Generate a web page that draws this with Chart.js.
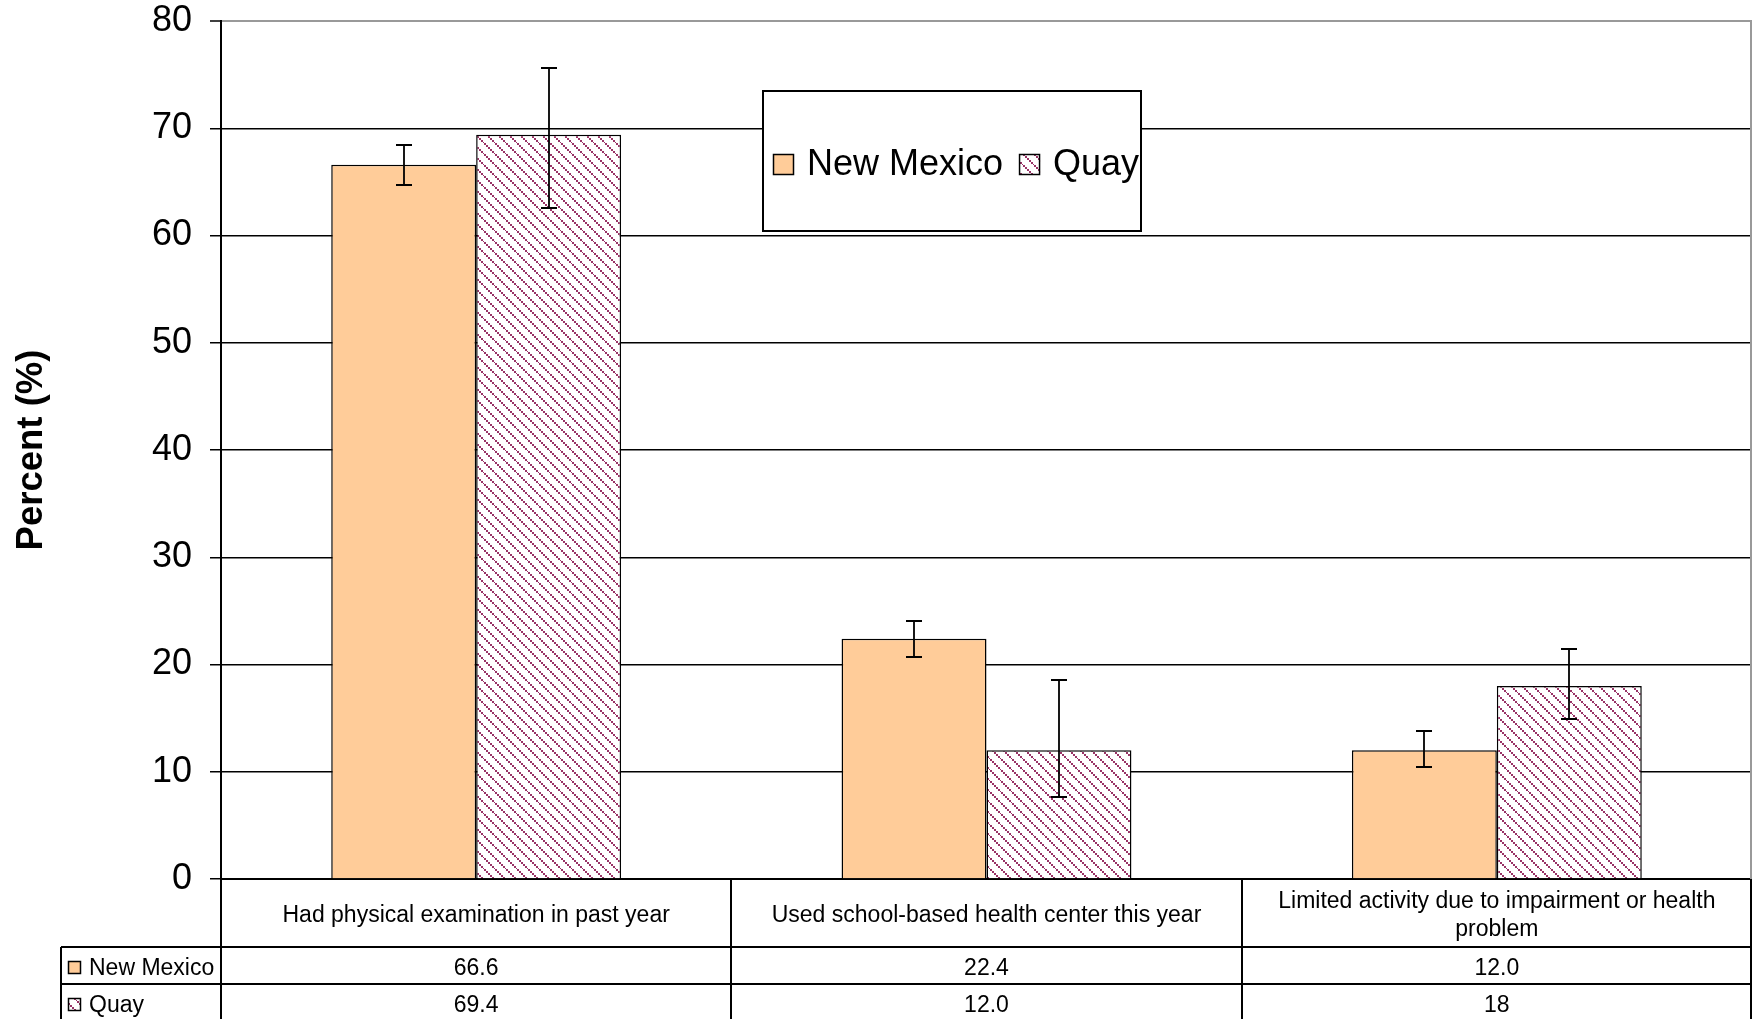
<!DOCTYPE html>
<html>
<head>
<meta charset="utf-8">
<script src="https://cdn.jsdelivr.net/npm/chart.js@4"></script>
<style>
  body { margin: 0; background: #fff; }
  canvas { display: block; }
</style>
</head>
<body>
<canvas id="healthChart" width="1752" height="1019" aria-label="Health care use, New Mexico vs Quay" role="img"></canvas>
<script>
const categories = [
    'Had physical examination in past year',
    'Used school-based health center this year',
    'Limited activity due to impairment or health problem'
];
const seriesNames = ['New Mexico', 'Quay'];
const newMexico = [66.6, 22.4, 12.0];
const quay = [69.4, 12.0, 18];
// confidence intervals
const newMexicoLow = [64.7, 20.7, 10.4];
const newMexicoHigh = [68.4, 24.1, 13.8];
const quayLow = [62.6, 7.6, 14.9];
const quayHigh = [75.6, 18.6, 21.4];
// values as printed in the data table
const newMexicoTable = ['66.6', '22.4', '12.0'];
const quayTable = ['69.4', '12.0', '18'];
const yMin = 0;
const yMax = 80;
const yStep = 10;

const FONT = "'Liberation Sans', Arial, sans-serif";
const canvas = document.getElementById('healthChart');
const ctx = canvas.getContext('2d');

// Excel-like "wide downward diagonal" fill
function makeStripes() {
    const tile = document.createElement('canvas');
    tile.width = 11;
    tile.height = 11;
    const g = tile.getContext('2d');
    g.fillStyle = '#ffffff';
    g.fillRect(0, 0, 11, 11);
    g.fillStyle = '#993366';
    [0, 2, 4, 6, 8].forEach(p => g.fillRect(p, p, 2, 2));
    g.fillRect(10, 10, 1, 1);
    return ctx.createPattern(tile, 'repeat');
}
const stripes = makeStripes();

const errorBars = {
    id: 'errorBars',
    afterDatasetsDraw(chart) {
        const c = chart.ctx;
        const y = chart.scales.y;
        c.save();
        c.strokeStyle = '#000';
        c.lineWidth = 1.8;
        chart.data.datasets.forEach((ds, i) => {
            const meta = chart.getDatasetMeta(i);
            meta.data.forEach((bar, j) => {
                const x = Math.round(bar.x);
                const top = Math.round(y.getPixelForValue(ds.high[j]));
                const bottom = Math.round(y.getPixelForValue(ds.low[j]));
                c.beginPath();
                c.moveTo(x, top);
                c.lineTo(x, bottom);
                c.moveTo(x - 8, top);
                c.lineTo(x + 8, top);
                c.moveTo(x - 8, bottom);
                c.lineTo(x + 8, bottom);
                c.stroke();
            });
        });
        c.restore();
    }
};

function drawSwatch(c, fill, x, y, size) {
    c.fillStyle = fill;
    c.fillRect(x, y, size, size);
    c.strokeStyle = '#000';
    c.lineWidth = 1.5;
    c.strokeRect(x + 0.5, y + 0.5, size - 1, size - 1);
}

function wrapText(c, text, maxWidth) {
    const words = text.split(' ');
    const lines = [];
    let line = '';
    words.forEach(w => {
        const test = line ? line + ' ' + w : w;
        if (c.measureText(test).width > maxWidth && line) {
            lines.push(line);
            line = w;
        } else {
            line = test;
        }
    });
    lines.push(line);
    return lines;
}

const tableAndLegend = {
    id: 'tableAndLegend',
    afterDraw(chart) {
        const c = chart.ctx;
        const area = chart.chartArea;
        const xs = chart.scales.x;
        const n = categories.length;
        const colW = (xs.right - xs.left) / n;
        const W = chart.width;
        const H = chart.height;
        const datasets = chart.data.datasets;

        c.save();
        // plot area border (right side)
        c.strokeStyle = '#999';
        c.lineWidth = 2;
        c.beginPath();
        c.moveTo(W - 1, area.top);
        c.lineTo(W - 1, area.bottom);
        c.stroke();

        // data table
        const top = area.bottom;
        const headBottom = top + 68;
        const rowH = 37;
        const labelLeft = 61;
        c.strokeStyle = '#000';
        c.lineWidth = 2;
        c.beginPath();
        for (let i = 0; i <= n; i++) {
            const cx = Math.min(Math.round(xs.left + i * colW), W - 1);
            c.moveTo(cx, top);
            c.lineTo(cx, H);
        }
        c.moveTo(labelLeft, headBottom);
        c.lineTo(labelLeft, H);
        for (let r = 0; r < datasets.length; r++) {
            const ly = headBottom + r * rowH;
            c.moveTo(labelLeft, ly);
            c.lineTo(W, ly);
        }
        c.stroke();

        c.fillStyle = '#000';
        c.font = '23px ' + FONT;
        c.textAlign = 'center';
        c.textBaseline = 'middle';
        categories.forEach((cat, i) => {
            const cx = xs.left + (i + 0.5) * colW;
            const lines = wrapText(c, cat, colW - 30);
            const lh = 28;
            const y0 = (top + headBottom) / 2 + 3 - (lines.length - 1) * lh / 2;
            lines.forEach((l, k) => c.fillText(l, cx, y0 + k * lh));
        });

        datasets.forEach((ds, r) => {
            const cy = headBottom + r * rowH + rowH / 2;
            c.textAlign = 'center';
            c.fillStyle = '#000';
            ds.tableValues.forEach((v, i) => {
                c.fillText(v, xs.left + (i + 0.5) * colW, cy + 3);
            });
            drawSwatch(c, ds.backgroundColor, labelLeft + 7, Math.round(cy - 5), 13);
            c.fillStyle = '#000';
            c.textAlign = 'left';
            c.fillText(ds.label, labelLeft + 28, cy + 3);
        });

        // legend box
        const box = { left: 763, top: 91, right: 1141, bottom: 231 };
        c.fillStyle = '#fff';
        c.fillRect(box.left, box.top, box.right - box.left, box.bottom - box.top);
        c.strokeStyle = '#000';
        c.lineWidth = 2;
        c.strokeRect(box.left, box.top, box.right - box.left, box.bottom - box.top);
        c.font = '36px ' + FONT;
        c.textAlign = 'left';
        c.textBaseline = 'middle';
        const midY = (box.top + box.bottom) / 2 + 4;
        let lx = box.left + 10;
        datasets.forEach(ds => {
            drawSwatch(c, ds.backgroundColor, lx, Math.round(midY - 11), 21);
            lx += 34;
            c.fillStyle = '#000';
            c.fillText(ds.label, lx, midY);
            lx += c.measureText(ds.label).width + 16;
        });
        c.restore();
    }
};

new Chart(ctx, {
    type: 'bar',
    data: {
        labels: categories,
        datasets: [
            {
                label: seriesNames[0],
                data: newMexico,
                backgroundColor: '#FFCC99',
                borderColor: '#000',
                borderWidth: 1.5,
                low: newMexicoLow,
                high: newMexicoHigh,
                tableValues: newMexicoTable,
            },
            {
                label: seriesNames[1],
                data: quay,
                backgroundColor: stripes,
                borderColor: '#000',
                borderWidth: 1.5,
                low: quayLow,
                high: quayHigh,
                tableValues: quayTable,
            },
        ],
    },
    options: {
        responsive: false,
        animation: false,
        devicePixelRatio: 1,
        categoryPercentage: 0.568,
        barPercentage: 1,
        layout: { padding: 0 },
        plugins: {
            legend: { display: false },
            tooltip: { enabled: false },
        },
        scales: {
            x: {
                ticks: { display: false },
                grid: { display: false },
                border: { color: '#000', width: 2 },
                afterFit: function (scale) {
                    scale.height = 140;
                },
            },
            y: {
                min: yMin,
                max: yMax,
                ticks: {
                    stepSize: yStep,
                    color: '#000',
                    padding: 18,
                    font: { family: FONT, size: 36 },
                },
                grid: {
                    color: (c) => (c.tick && c.tick.value === yMax ? '#999' : '#000'),
                    lineWidth: (c) => (c.tick && c.tick.value === yMax ? 2 : 1.5),
                    tickColor: '#000',
                    tickWidth: 1.5,
                    tickLength: 11,
                },
                border: { color: '#000', width: 2 },
                title: {
                    display: true,
                    text: 'Percent (%)',
                    color: '#000',
                    font: { family: FONT, size: 36.5, weight: 'bold' },
                    padding: { top: 10, bottom: 0 },
                },
                afterFit: function (scale) {
                    scale.width = 221;
                    scale.paddingTop = 21;
                    scale.paddingBottom = 0;
                },
            },
        },
    },
    plugins: [errorBars, tableAndLegend],
});
</script>
</body>
</html>
